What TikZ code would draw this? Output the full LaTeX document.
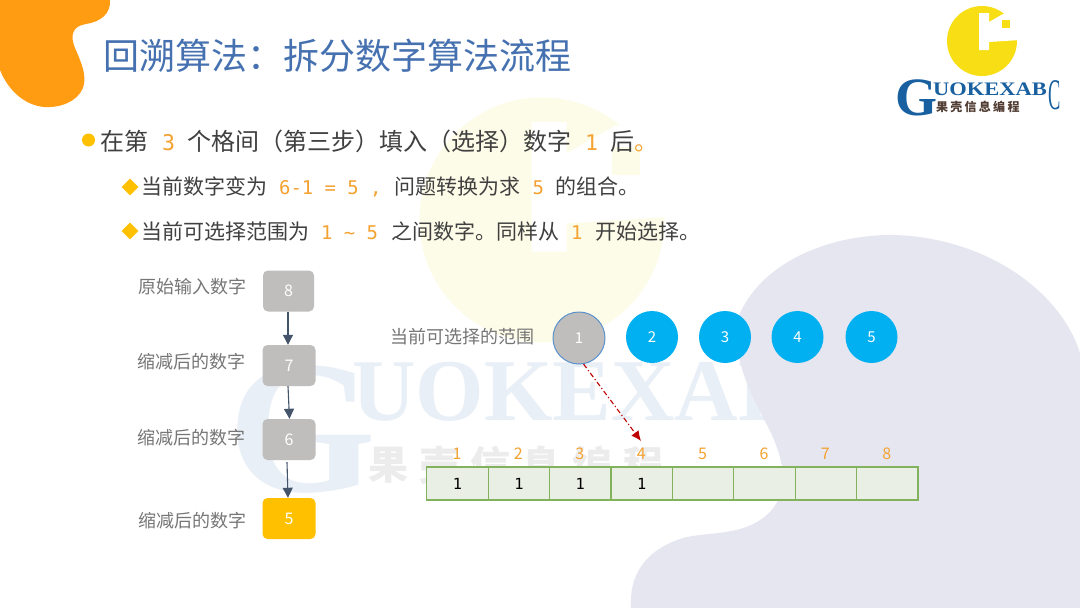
\documentclass[tikz,border=0pt]{standalone}
\usepackage{fontspec}
\usepackage{xcolor}
\usetikzlibrary{arrows.meta,shapes.geometric}
\setmainfont{Noto Sans CJK SC}
\newfontfamily\numfont[Scale=0.9]{DejaVu Sans Mono}
\newfontfamily\markfont{Liberation Serif}
\definecolor{TitleColor}{RGB}{70,113,176}
\definecolor{BodyColor}{RGB}{64,64,64}
\definecolor{LabelColor}{RGB}{118,118,118}
\definecolor{NumColor}{RGB}{244,162,50}
\definecolor{GoldColor}{RGB}{255,192,0}
\definecolor{BlobOrange}{RGB}{255,156,18}
\definecolor{BlobLilac}{RGB}{230,230,241}
\definecolor{BoxGray}{RGB}{191,190,189}
\definecolor{ArrowColor}{RGB}{68,84,106}
\definecolor{SkyColor}{RGB}{0,176,240}
\definecolor{RingColor}{RGB}{91,145,205}
\definecolor{PickColor}{RGB}{192,0,0}
\definecolor{CellFill}{RGB}{233,239,228}
\definecolor{CellLine}{RGB}{130,178,92}
\definecolor{PaleYellow}{RGB}{253,252,232}
\definecolor{PaleBlue}{RGB}{232,239,246}
\definecolor{PaleGray}{RGB}{236,236,236}
\definecolor{LogoYellow}{RGB}{248,222,20}
\definecolor{LogoBlue}{RGB}{24,96,160}
\definecolor{LogoBrown}{RGB}{80,60,50}
\newcommand{\fs}[1]{\fontsize{#1}{#1}\selectfont}
\newcommand{\hlnum}[3]{\hspace{#1pt}{\numfont\color{NumColor}#3}\hspace{#2pt}}
\tikzset{
  textline/.style={anchor=west,inner sep=0pt,text=BodyColor},
  sidelabel/.style={anchor=west,inner sep=0pt,text=LabelColor,font=\fs{18}},
  numbox/.style={draw=none,fill=BoxGray,rounded corners=5pt,minimum width=53pt,minimum height=41pt,inner sep=0pt,text=white,font=\fs{16}},
  choice/.style={circle,fill=SkyColor,minimum size=52pt,inner sep=0pt,text=white,font=\fs{15}},
  cellbox/.style={draw=CellLine,line width=1.2pt,fill=CellFill,minimum width=61.4pt,minimum height=33pt,inner sep=0pt,text=black,font=\fs{17}\numfont},
  cellnum/.style={inner sep=0pt,text=NumColor,font=\fs{16}},
  flowarrow/.style={-{Triangle[length=10pt,width=10pt]},ArrowColor,line width=1.1pt},
  bullet/.style={diamond,fill=GoldColor,minimum size=17pt,inner sep=0pt},
  coinmark/.pic={
    \fill[pic actions] (0,0) circle[radius=35];
    \fill[white] (-3,-28)--(7,-28)--(7,-19)--(21,-27)--(38,-27)--(38,-1)--(7,1)--(7,9)--(-3,9)--cycle;
    \fill[pic actions] (20,-21) rectangle (28,-13);
  }
}
\begin{document}
\begin{tikzpicture}[x=1pt,y=-1pt]
  \useasboundingbox (0,0) rectangle (1080,608);
  \fill[white] (0,0) rectangle (1080,608);

  % watermark
  \pic[fill=PaleYellow,scale=3.5] at (542,220) {coinmark};
  \node[inner sep=0pt,text=PaleBlue,font=\fs{190}\markfont\bfseries] (wmg) at (302,430) {G};
  \node[anchor=west,inner sep=0pt,text=PaleBlue,font=\fs{88}\markfont\bfseries] (wmtext) at (352,392) {UOKEXAB};
  \foreach \ch [count=\i] in {果,壳,信,息,编,程}
    \node[inner sep=0pt,text=PaleGray,font=\fs{40}\bfseries] (wm\i) at ({388+51*(\i-1)},465) {\ch};

  % background blobs
  \fill[BlobOrange] (0,0)--(110,0) .. controls (111,14) and (100,22) .. (86,24)
    .. controls (72,26) and (70,36) .. (75,48) .. controls (82,64) and (87,76) .. (83,88)
    .. controls (77,102) and (60,108) .. (44,107) .. controls (24,105) and (8,90) .. (0,70)--cycle;
  \fill[BlobLilac] (631,608) .. controls (629,575) and (645,550) .. (683,538)
    .. controls (710,531) and (745,537) .. (770,512) .. controls (790,490) and (785,460) .. (767,425)
    .. controls (750,392) and (732,360) .. (738,318) .. controls (760,262) and (830,234) .. (895,235)
    .. controls (985,238) and (1060,290) .. (1080,353)--(1080,608)--cycle;

  % title and text
  \node[textline,text=TitleColor,font=\fs{36}] (title) at (103,56) {回溯算法：拆分数字算法流程};
  \node[circle,fill=GoldColor,minimum size=13pt,inner sep=0pt] (dot) at (88.5,140) {};
  \node[textline,font=\fs{24}] (line1) at (100,141) {在第\hlnum{14}{12}{3}个格间（第三步）填入（选择）数字\hlnum{14}{12}{1}后{\color{NumColor}。}};
  \node[bullet] (dia1) at (130,187) {};
  \node[textline,font=\fs{21}] (line2) at (141,187) {当前数字变为\hlnum{12}{13}{6-1~=~5~,}问题转换为求\hlnum{12}{12}{5}的组合。};
  \node[bullet] (dia2) at (130,231) {};
  \node[textline,font=\fs{21}] (line3) at (141,231) {当前可选择范围为\hlnum{12}{13}{1~\textasciitilde~5}之间数字。同样从\hlnum{12}{13}{1}开始选择。};

  % number column
  \node[sidelabel] (lab8) at (138,287) {原始输入数字};
  \node[sidelabel] (lab7) at (137,362) {缩减后的数字};
  \node[sidelabel] (lab6) at (137,438) {缩减后的数字};
  \node[sidelabel] (lab5) at (138,521) {缩减后的数字};
  \node[numbox,minimum width=51pt] (b8) at (288.5,291) {8};
  \node[numbox] (b7) at (289,365.5) {7};
  \node[numbox] (b6) at (289,439.5) {6};
  \node[numbox,fill=GoldColor] (b5) at (289,518.5) {5};
  \draw[flowarrow] ([xshift=-0.5pt]b8.south) -- ([xshift=-1pt]b7.north);
  \draw[flowarrow] ([xshift=-1pt]b7.south) -- ([xshift=0.5pt]b6.north);
  \draw[flowarrow] ([xshift=-2pt,yshift=-2pt]b6.south) -- ([xshift=-1pt]b5.north);

  % choices
  \node[sidelabel] (range) at (390,337) {当前可选择的范围};
  \node[choice,fill=BoxGray,draw=RingColor,line width=1pt] (c1) at (579,338) {1};
  \node[choice] (c2) at (652,337) {2};
  \node[choice] (c3) at (725,337) {3};
  \node[choice] (c4) at (797.5,337) {4};
  \node[choice] (c5) at (871.5,337) {5};

  % cells
  \foreach \i/\v in {1/1,2/1,3/1,4/1,5/,6/,7/,8/} {
    \node[cellbox] (cell\i) at ({457.5+61.4*(\i-1)},483.5) {\v};
    \node[cellnum] (top\i) at ({457+61.4*(\i-1)},454) {\i};
  }
  \coordinate (pick) at (641,441);
  \draw[-{Latex[length=10pt,width=9pt]},PickColor,line width=1.1pt,dash pattern=on 5pt off 2.5pt on 1.2pt off 2.5pt] (c1.-80) -- (pick);

  % logo
  \pic[fill=LogoYellow] at (982,41) {coinmark};
  \node[inner sep=0pt,text=LogoBlue,font=\fs{54}\markfont\bfseries] (logog) at (916,98) {G};
  \node[anchor=west,inner sep=0pt,text=LogoBlue,yscale=0.85,font=\fs{22.5}\markfont\bfseries] (logotext) at (933,89) {UOKEXAB};
  \node[inner sep=0pt,text=LogoBlue,xscale=0.8,yscale=1.9,font=\fs{23}\markfont] (logoc) at (1055,95) {C};
  \foreach \ch [count=\i] in {果,壳,信,息,编,程}
    \node[inner sep=0pt,text=LogoBrown,font=\fs{12}\bfseries] (logo\i) at ({942+14.3*(\i-1)},107) {\ch};
\end{tikzpicture}
\end{document}
